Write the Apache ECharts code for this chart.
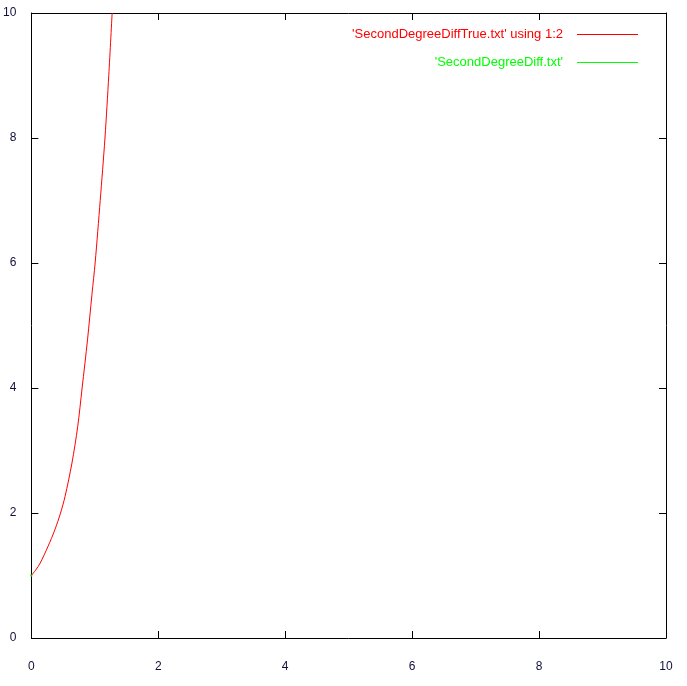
<!DOCTYPE html>
<html>
<head>
<meta charset="utf-8">
<script src="https://cdn.jsdelivr.net/npm/echarts@6/dist/echarts.min.js"></script>
<style>
html,body{margin:0;padding:0;background:#fff;}
#chart{width:687px;height:686px;}
</style>
</head>
<body>
<div id="chart"></div>
<script>
// Values
const trueX = [0, 0.07, 0.14, 0.26, 0.37, 0.46, 0.53, 0.64, 0.73, 0.80, 0.885, 0.955, 1.005, 1.085, 1.16, 1.22, 1.273];
const trueY = [1, 1.09, 1.2, 1.46, 1.73, 2, 2.26, 2.8, 3.38, 4, 4.77, 5.5, 6, 7, 8, 9, 10];
const diffX = [0];
const diffY = [1];
const xTicks = [0, 2, 4, 6, 8, 10];
const yTicks = [0, 2, 4, 6, 8, 10];
const seriesNames = ["'SecondDegreeDiffTrue.txt' using 1:2", "'SecondDegreeDiff.txt'"];
const seriesColors = ['#ff0000', '#00ff00'];

const chart = echarts.init(document.getElementById('chart'), null, {renderer: 'canvas'});
const labelColor = '#10103a';
const font = 'Liberation Sans, Arial, sans-serif';
function axisBase(pos, showLabel, ticks) {
  return {
    type: 'value',
    position: pos,
    min: ticks[0],
    max: ticks[ticks.length - 1],
    interval: ticks[1] - ticks[0],
    splitLine: {show: false},
    axisLine: {show: true, onZero: false, lineStyle: {color: '#000', width: 1}},
    axisTick: {show: true, inside: true, length: 7, lineStyle: {color: '#000', width: 1}},
    axisLabel: {show: showLabel, color: labelColor, fontSize: 12, fontFamily: font}
  };
}
const xBottom = axisBase('bottom', true, xTicks);
xBottom.axisLabel.margin = 23;
const xTop = axisBase('top', false, xTicks);
const yLeft = axisBase('left', true, yTicks);
yLeft.axisLabel.margin = 15;
const yRight = axisBase('right', false, yTicks);

chart.setOption({
  animation: false,
  backgroundColor: '#fff',
  grid: {left: 31, top: 13, width: 635, height: 625},
  legend: {
    orient: 'vertical',
    align: 'right',
    right: 44,
    top: 23,
    itemWidth: 61,
    itemHeight: 1,
    itemGap: 15,
    icon: 'rect',
    textStyle: {fontSize: 13, fontFamily: font, padding: [0, 9, 0, 0]},
    data: [
      {name: seriesNames[0], textStyle: {color: seriesColors[0]}},
      {name: seriesNames[1], textStyle: {color: seriesColors[1]}}
    ]
  },
  xAxis: [xBottom, xTop],
  yAxis: [yLeft, yRight],
  series: [
    {
      name: seriesNames[0],
      type: 'line',
      xAxisIndex: 0, yAxisIndex: 0,
      data: trueX.map((x, i) => [x, trueY[i]]),
      symbol: 'none',
      smooth: 0.3,
      lineStyle: {color: seriesColors[0], width: 1},
      itemStyle: {color: seriesColors[0]},
      clip: true
    },
    {
      name: seriesNames[1],
      type: 'line',
      xAxisIndex: 0, yAxisIndex: 0,
      data: diffX.map((x, i) => [x, diffY[i]]),
      symbol: 'rect',
      symbolSize: 2,
      showSymbol: true,
      lineStyle: {color: seriesColors[1], width: 1},
      itemStyle: {color: seriesColors[1]},
      z: 1
    }
  ]
});
</script>
</body>
</html>
